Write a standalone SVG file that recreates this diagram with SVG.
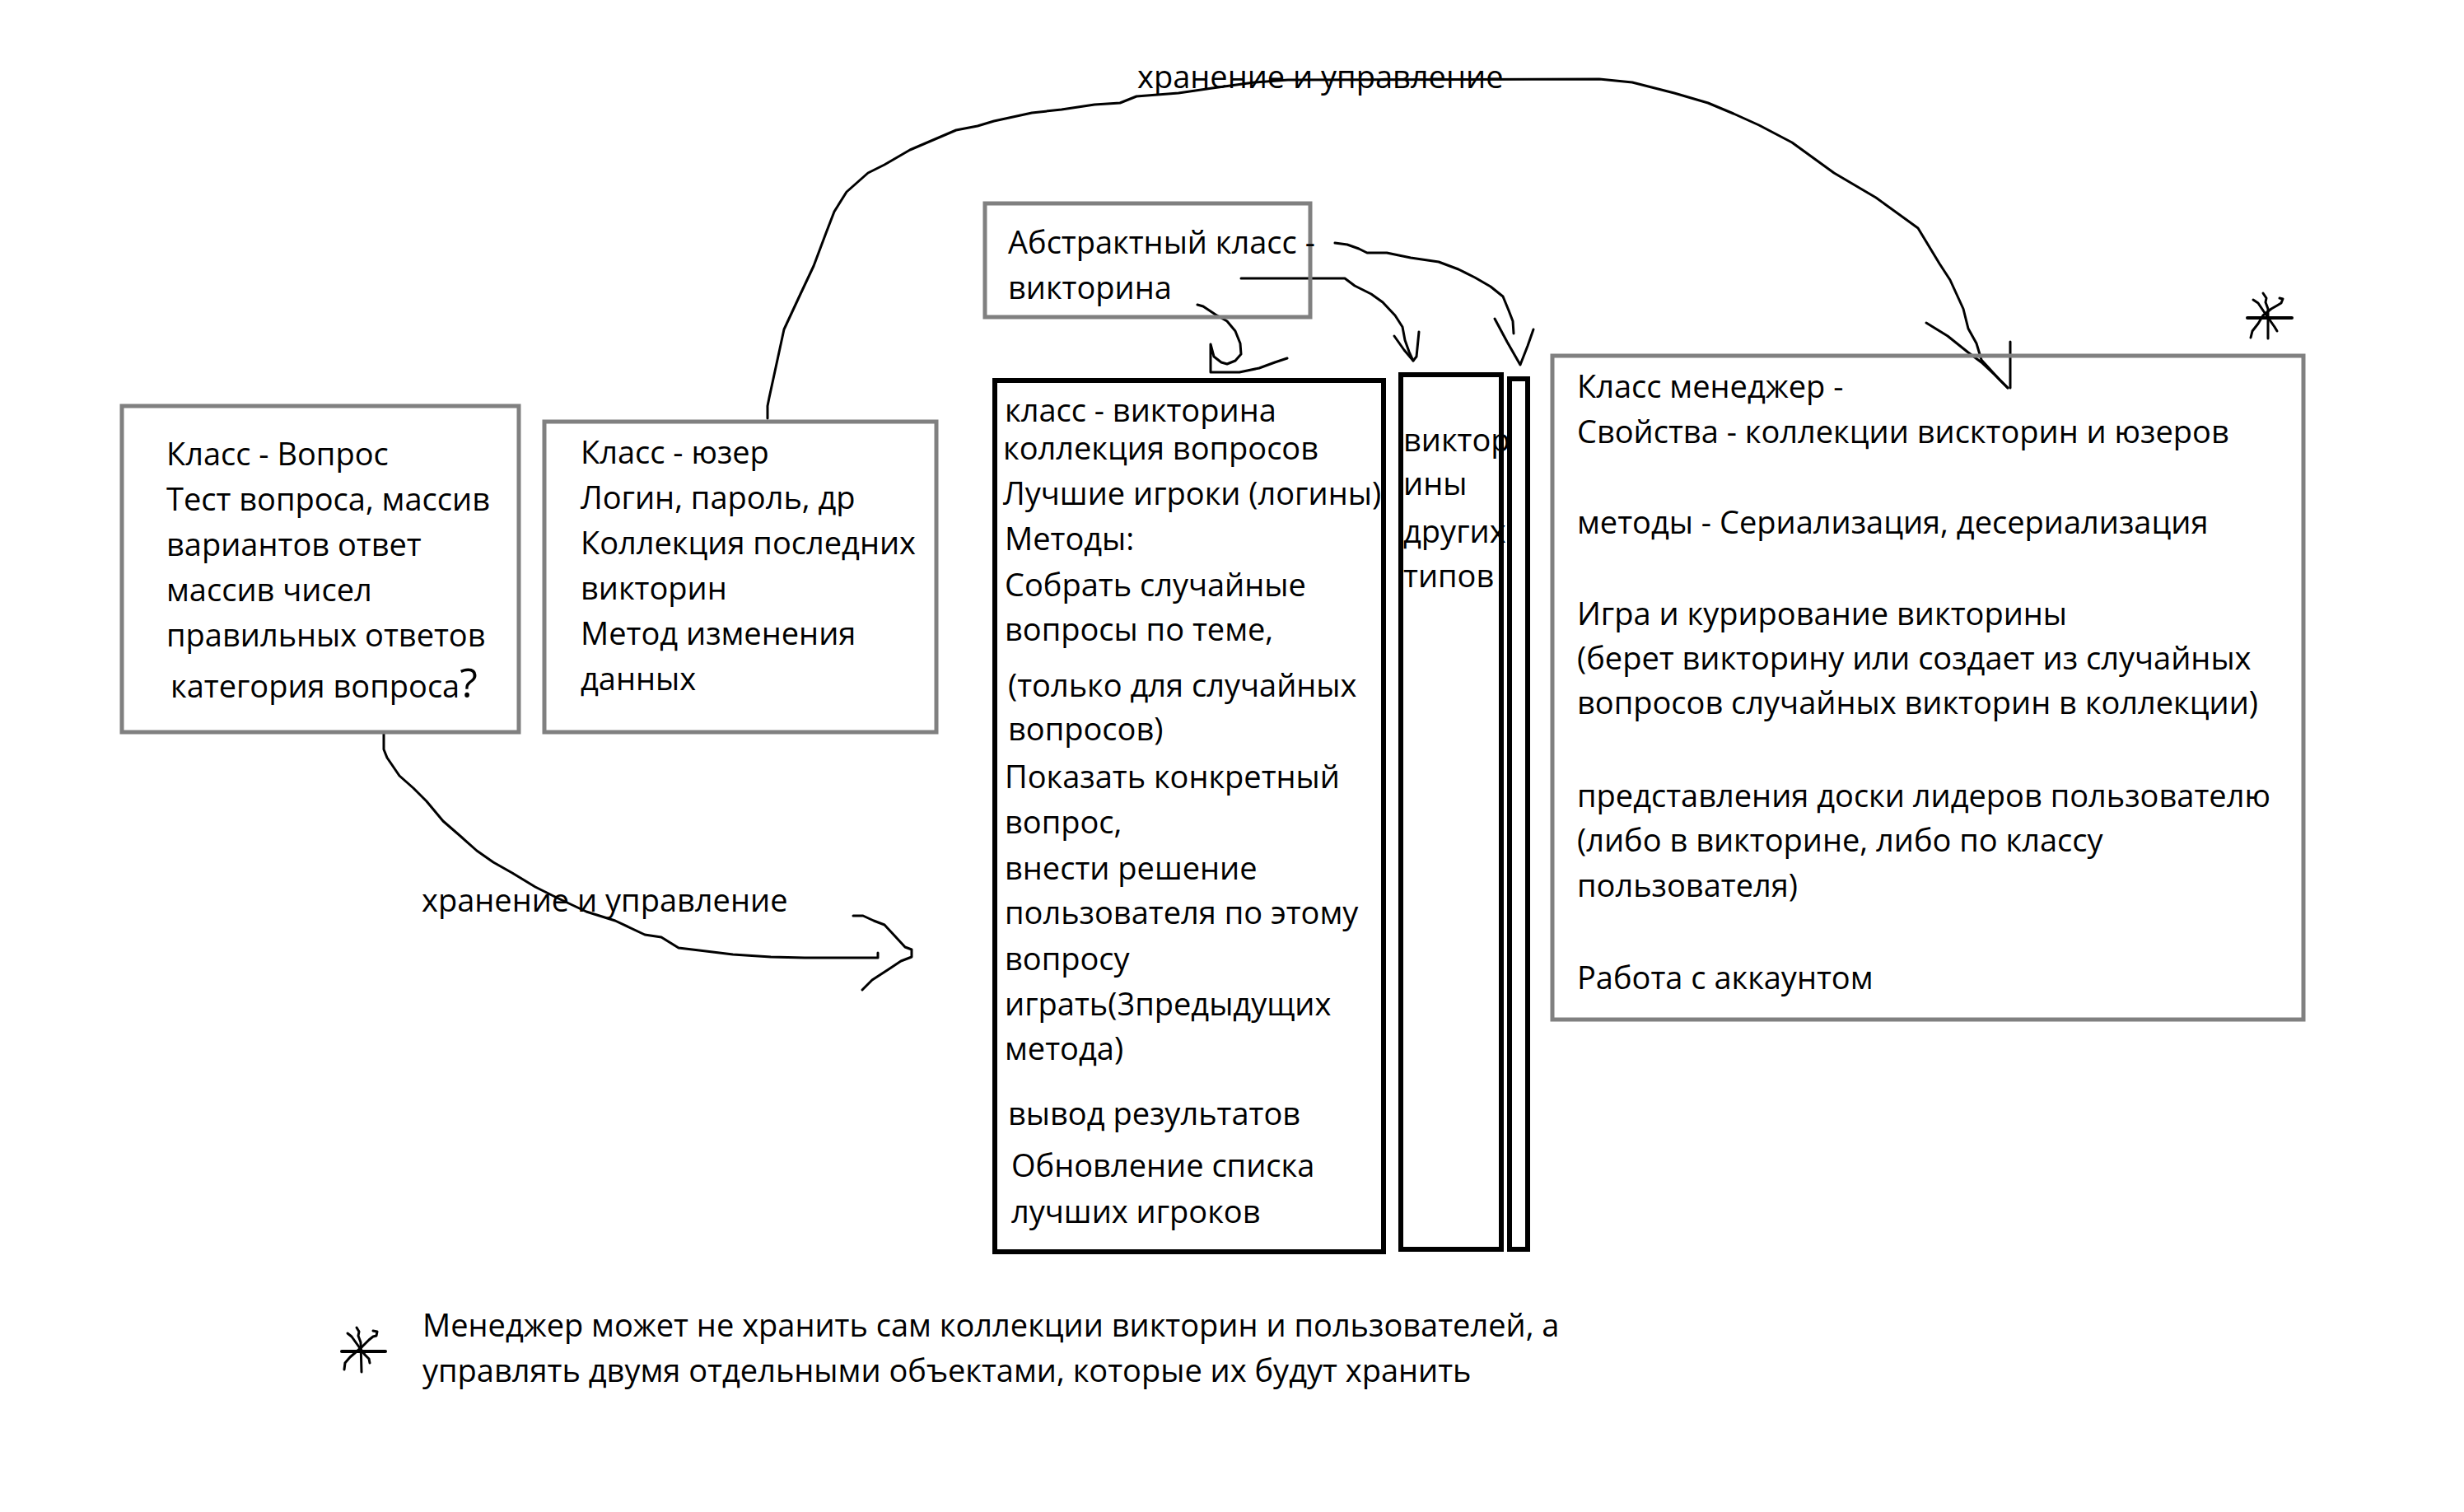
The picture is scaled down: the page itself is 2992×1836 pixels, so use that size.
<svg xmlns="http://www.w3.org/2000/svg" width="2992" height="1836" viewBox="0 0 2992 1836">
<style>
.gbox{fill:none;stroke:#808080;stroke-width:5}
.bbox{fill:none;stroke:#000;stroke-width:6}
.t{font-family:'Open Sans','Liberation Sans',sans-serif;font-size:38px;fill:#000}
.c{fill:none;stroke:#000;stroke-width:3;stroke-linejoin:round;stroke-linecap:round}
</style>
<rect width="2992" height="1836" fill="#fff"/>
<g id="connectors">
<polyline class="c" points="932,508 932,493 934,483 939,460 952,400 972,357 988,323 1003,283 1013,257 1028,233 1054,210 1074,200 1105,182 1161,158 1187,153 1207,147 1253,137 1289,133 1329,127 1360,125 1380,117 1431,113 1472,107 1523,100 1564,97 1942,96 1982,100 2033,113 2074,125 2105,138 2136,152 2176,173 2227,210 2278,240 2329,277 2355,320 2368,340 2384,375 2390,399 2400,417 2406,437 2428,461 2438,471"/>
<polyline class="c" points="2339,392 2365,408 2390,428 2406,440 2422,455 2438,471"/>
<polyline class="c" points="2441,415 2441,471"/>
<polyline class="c" points="466,890 466,910 470,920 485,942 502,957 518,973 538,997 561,1017 579,1033 599,1047 622,1060 650,1077 676,1090 712,1107 747,1118 783,1135 803,1138 824,1151 849,1154 890,1159 936,1162 977,1163 1066,1163 1066,1157"/>
<polyline class="c" points="1036,1112 1048,1112 1061,1118 1074,1123 1087,1137 1099,1150 1107,1153 1107,1162 1094,1167 1079,1177 1059,1190 1047,1202"/>
<polyline class="c" points="1454,370 1461,372 1476,382 1490,390 1500,402 1506,417 1507,430 1500,438 1490,442 1483,440 1474,433 1470,418 1470,452 1505,452 1529,447 1548,440 1563,435"/>
<polyline class="c" points="1507,338 1633,338 1645,347 1665,357 1679,367 1694,383 1703,397 1706,413 1711,427 1716,438"/>
<polyline class="c" points="1693,408 1705,425 1716,438 1720,433 1723,403"/>
<polyline class="c" points="1621,295 1636,297 1650,302 1660,307 1684,307 1713,313 1747,318 1771,327 1791,337 1810,348 1825,360 1832,377 1837,390 1838,405"/>
<polyline class="c" points="1815,387 1830,415 1846,443 1855,420 1862,400"/>
</g>
<g id="node-question">
<rect class="gbox" x="148" y="493" width="482" height="396"/>
<text class="t" x="202" y="565">Класс - Вопрос</text>
<text class="t" x="202" y="620">Тест вопроса, массив</text>
<text class="t" x="202" y="675">вариантов ответ</text>
<text class="t" x="202" y="730">массив чисел</text>
<text class="t" x="202" y="785">правильных ответов</text>
<text class="t" x="207" y="847">категория вопроса<tspan font-size="50">?</tspan></text>
</g>
<g id="node-user">
<rect class="gbox" x="661" y="512" width="476" height="377"/>
<text class="t" x="705" y="563">Класс - юзер</text>
<text class="t" x="705" y="618">Логин, пароль, др</text>
<text class="t" x="705" y="673">Коллекция последних</text>
<text class="t" x="705" y="728">викторин</text>
<text class="t" x="705" y="783">Метод изменения</text>
<text class="t" x="705" y="838">данных</text>
</g>
<g id="node-abstract">
<rect class="gbox" x="1196" y="247" width="395" height="138"/>
<text class="t" x="1224" y="308">Абстрактный класс -</text>
<text class="t" x="1224" y="363">викторина</text>
</g>
<g id="node-quiz">
<rect class="bbox" x="1208" y="462" width="472" height="1058"/>
<text class="t" x="1220" y="512">класс - викторина</text>
<text class="t" x="1218" y="558">коллекция вопросов</text>
<text class="t" x="1218" y="613">Лучшие игроки (логины)</text>
<text class="t" x="1220" y="668">Методы:</text>
<text class="t" x="1220" y="724">Собрать случайные</text>
<text class="t" x="1220" y="778">вопросы по теме,</text>
<text class="t" x="1224" y="846">(только для случайных</text>
<text class="t" x="1224" y="899">вопросов)</text>
<text class="t" x="1220" y="957">Показать конкретный</text>
<text class="t" x="1220" y="1012">вопрос,</text>
<text class="t" x="1220" y="1068">внести решение</text>
<text class="t" x="1220" y="1122">пользователя по этому</text>
<text class="t" x="1220" y="1178">вопросу</text>
<text class="t" x="1220" y="1233">играть(3предыдущих</text>
<text class="t" x="1220" y="1287">метода)</text>
<text class="t" x="1224" y="1366">вывод результатов</text>
<text class="t" x="1228" y="1429">Обновление списка</text>
<text class="t" x="1228" y="1485">лучших игроков</text>
</g>
<g id="node-other-quizzes">
<text class="t" x="1704" y="548">виктор</text>
<text class="t" x="1704" y="601">ины</text>
<text class="t" x="1704" y="659">других</text>
<text class="t" x="1704" y="713">типов</text>
<rect class="bbox" x="1701" y="455" width="122" height="1062"/>
</g>
<g id="node-thin">
<rect class="bbox" x="1833" y="460" width="22" height="1057"/>
</g>
<g id="node-manager">
<rect class="gbox" x="1885" y="432" width="912" height="806"/>
<text class="t" x="1915" y="483">Класс менеджер -</text>
<text class="t" x="1915" y="538">Свойства - коллекции вискторин и юзеров</text>
<text class="t" x="1915" y="648">методы - Сериализация, десериализация</text>
<text class="t" x="1915" y="759">Игра и курирование викторины</text>
<text class="t" x="1915" y="813">(берет викторину или создает из случайных</text>
<text class="t" x="1915" y="867">вопросов случайных викторин в коллекции)</text>
<text class="t" x="1915" y="980">представления доски лидеров пользователю</text>
<text class="t" x="1915" y="1034">(либо в викторине, либо по классу</text>
<text class="t" x="1915" y="1089">пользователя)</text>
<text class="t" x="1915" y="1201">Работа с аккаунтом</text>
</g>
<g id="labels">
<text class="t" x="1381" y="107">хранение и управление</text>
<text class="t" x="512" y="1107">хранение и управление</text>
</g>
<g id="star-manager">
<polyline class="c" points="2729,386 2783,386" style="stroke-width:4"/>
<polyline class="c" points="2748,356 2752,362 2751,367 2754,375 2754,390 2754,411"/>
<polyline class="c" points="2736,364 2742,368 2748,377 2755,387 2762,397 2765,402"/>
<polyline class="c" points="2733,410 2735,402 2742,393 2748,383 2758,375 2765,371 2770,368 2772,363 2768,362"/>
</g>
<g id="footnote">
<polyline class="c" points="415,1641 468,1641" style="stroke-width:4"/>
<polyline class="c" points="433,1612 436,1617 435,1622 438,1630 439,1666"/>
<polyline class="c" points="422,1619 427,1623 432,1630 437,1637 443,1645 448,1650 449,1655"/>
<polyline class="c" points="418,1663 419,1655 425,1648 432,1642 440,1635 448,1627 453,1623 457,1622 458,1617 453,1616"/>
<text class="t" x="513" y="1623">Менеджер может не хранить сам коллекции викторин и пользователей, а</text>
<text class="t" x="513" y="1678">управлять двумя отдельными объектами, которые их будут хранить</text>
</g>
</svg>
